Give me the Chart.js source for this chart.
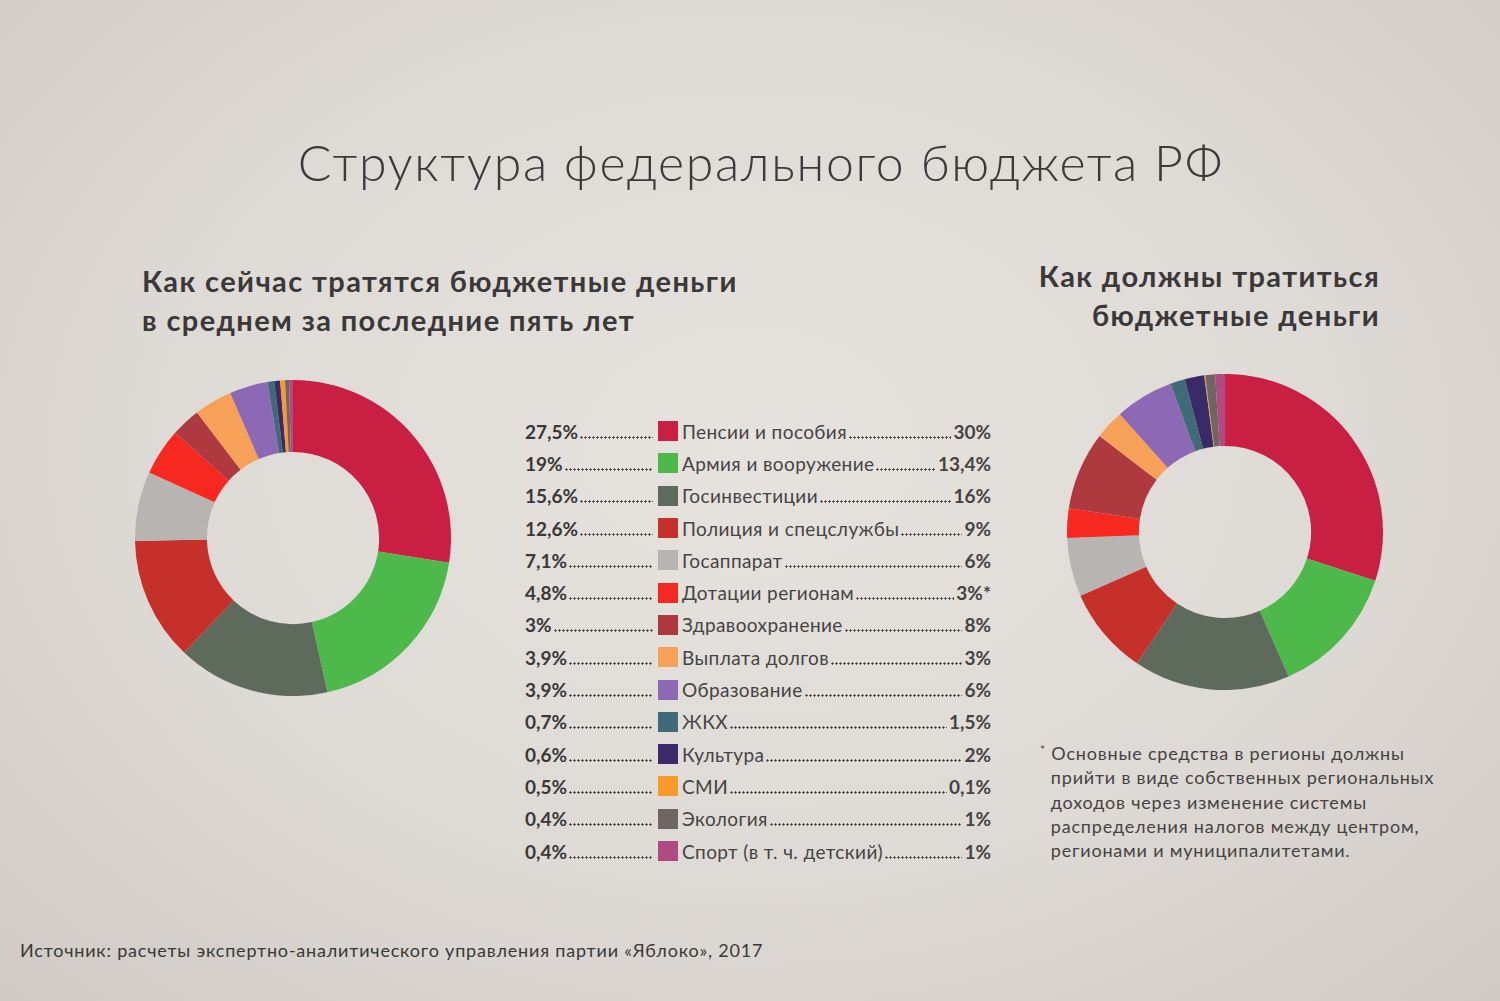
<!DOCTYPE html>
<html><head><meta charset="utf-8">
<script src="https://cdn.jsdelivr.net/npm/chart.js@4"></script>
<style>
html,body{margin:0;padding:0;}
body{width:1500px;height:1001px;position:relative;overflow:hidden;
 background:radial-gradient(ellipse at 50% 45%, #e6e3df 0%, #dedad5 55%, #cfcac4 100%);
 font-family:"Lato","Noto Sans",sans-serif;color:#3a3838;}
.abs{position:absolute;}
#title{left:0;width:1522px;top:132px;text-align:center;font-size:50px;font-weight:300;letter-spacing:1.7px;color:#3c3a3a;}
.sub{font-size:29px;font-weight:700;line-height:39px;color:#3a3838;letter-spacing:1.4px;white-space:nowrap;}
#subL{left:142px;top:261px;}
#subR{right:120px;top:256px;text-align:right;}
#legend{left:525px;top:415px;width:466px;}
.row{height:32.3px;display:flex;align-items:center;font-size:19px;}
.lv{width:130px;flex:none;display:flex;align-items:baseline;font-weight:700;}
.lab{flex:1 1 0;min-width:0;display:flex;align-items:baseline;font-weight:400;color:#444;letter-spacing:0.4px;white-space:nowrap;}
.fill{flex:1 1 0;min-width:0;height:3px;margin:0 2px 0 2px;
  background-image:radial-gradient(circle at 1.5px 1.5px, #3a3838 0.9px, rgba(0,0,0,0) 1.3px);
  background-size:4px 3px;background-repeat:repeat-x;}
.sq{width:20px;height:20px;margin:0 4px 0 3px;flex:none;}
.rv{font-weight:700;letter-spacing:0;}
#note{left:1040px;top:738px;font-size:18px;line-height:24.3px;color:#454343;letter-spacing:0.8px;white-space:nowrap;}
#src{left:20px;top:939px;font-size:18px;color:#3a3838;letter-spacing:0.8px;white-space:nowrap;}
canvas{position:absolute;}
</style></head>
<body>
<div id="title" class="abs">Структура федерального бюджета РФ</div>
<div id="subL" class="abs sub">Как сейчас тратятся бюджетные деньги<br>в среднем за последние пять лет</div>
<div id="subR" class="abs sub">Как должны тратиться<br>бюджетные деньги</div>
<canvas id="c1" width="316" height="316" style="left:135px;top:380px"></canvas>
<canvas id="c2" width="316" height="316" style="left:1067px;top:374px"></canvas>
<div id="legend" class="abs"></div>
<div id="note" class="abs"><sup style="font-size:12px;vertical-align:6px">*</sup> Основные средства в регионы должны<br>&nbsp;&nbsp;прийти в виде собственных региональных<br>&nbsp;&nbsp;доходов через изменение системы<br>&nbsp;&nbsp;распределения налогов между центром,<br>&nbsp;&nbsp;регионами и муниципалитетами.</div>
<div id="src" class="abs">Источник: расчеты экспертно-аналитического управления партии «Яблоко», 2017</div>
<script>
const categories = ["Пенсии и пособия","Армия и вооружение","Госинвестиции","Полиция и спецслужбы","Госаппарат","Дотации регионам","Здравоохранение","Выплата долгов","Образование","ЖКХ","Культура","СМИ","Экология","Спорт (в т. ч. детский)"];
const currentValues = [27.5,19,15.6,12.6,7.1,4.8,3,3.9,3.9,0.7,0.6,0.5,0.4,0.4];
const proposedValues = [30,13.4,16,9,6,3,8,3,6,1.5,2,0.1,1,1];
const currentLabels = ["27,5%","19%","15,6%","12,6%","7,1%","4,8%","3%","3,9%","3,9%","0,7%","0,6%","0,5%","0,4%","0,4%"];
const proposedLabels = ["30%","13,4%","16%","9%","6%","3%*","8%","3%","6%","1,5%","2%","0,1%","1%","1%"];
const colors = ["#c81f43","#4db94b","#5e6b5c","#c6302a","#b7b4b1","#f7281f","#ae3a40","#f7a057","#8d69b5","#3f6b78","#3a2a68","#f89a2a","#6f6661","#b04a83"];

const lg = document.getElementById('legend');
categories.forEach((c,i)=>{
  const r = document.createElement('div'); r.className='row';
  r.innerHTML = `<div class="lv"><span>${currentLabels[i]}</span><div class="fill"></div></div>`+
    `<div class="sq" style="background:${colors[i]}"></div>`+
    `<div class="lab"><span>${c}</span><div class="fill"></div><span class="rv">${proposedLabels[i]}</span></div>`;
  lg.appendChild(r);
});

function donut(id, data){
  new Chart(document.getElementById(id), {
    type:'doughnut',
    data:{labels:categories, datasets:[{data:data, backgroundColor:colors, borderWidth:0}]},
    options:{responsive:false, animation:false, devicePixelRatio:1, cutout:'54.5%',
      layout:{padding:0},
      plugins:{legend:{display:false}, tooltip:{enabled:false}}}
  });
}
donut('c1', currentValues);
donut('c2', proposedValues);
</script>
</body></html>
